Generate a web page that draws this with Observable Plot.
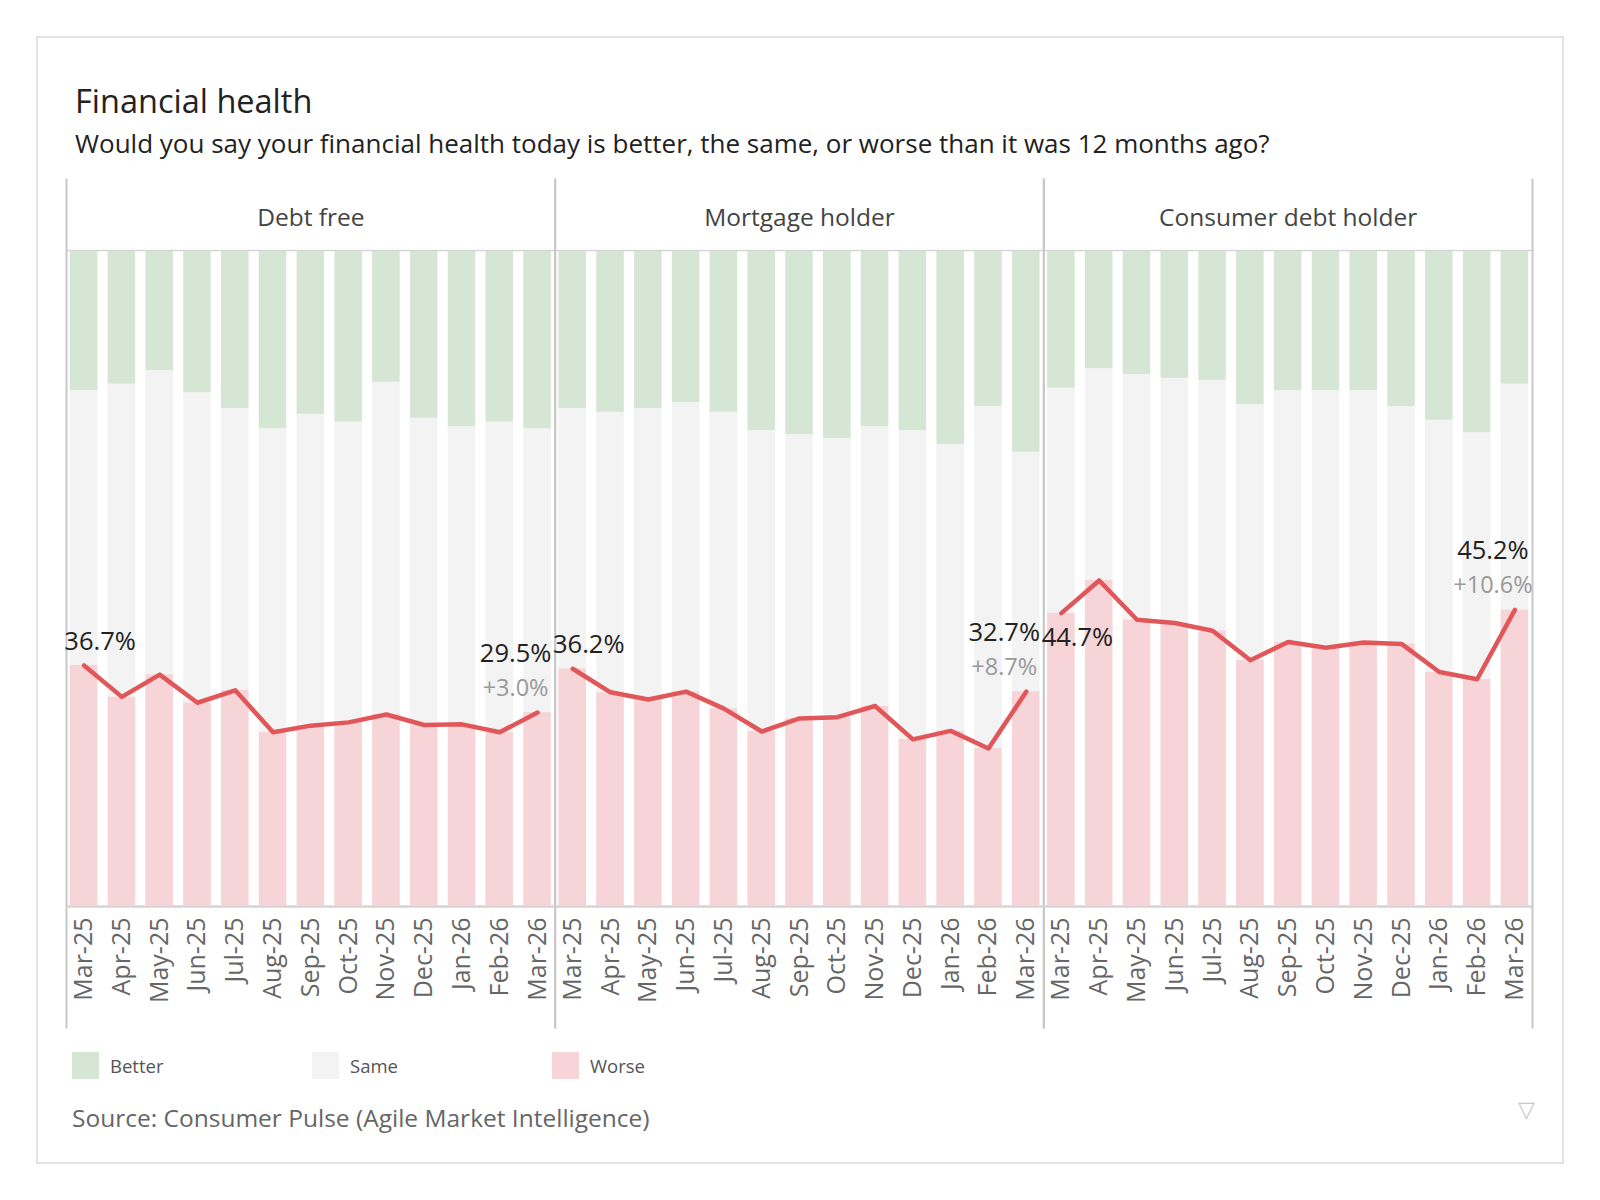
<!DOCTYPE html>
<html>
<head>
<meta charset="utf-8">
<script src="https://cdn.jsdelivr.net/npm/d3@7"></script>
<script src="https://cdn.jsdelivr.net/npm/@observablehq/plot@0.6"></script>
<style>
  body { margin: 0; background: #fff; font-family: "Open Sans", sans-serif; }
  #page { position: relative; width: 1600px; height: 1200px; overflow: hidden; background: #fff; }
  #border { position: absolute; left: 36px; top: 36px; width: 1524px; height: 1124px; border: 2px solid #e3e3e3; }
  #title { position: absolute; left: 75px; top: 85px; font-size: 32.5px; line-height: 32.5px; color: #222; white-space: nowrap; }
  #subtitle { position: absolute; left: 75px; top: 130px; font-size: 26px; line-height: 26px; color: #222; white-space: nowrap; }
  #chart { position: absolute; left: 0; top: 170px; }
  #legend { position: absolute; left: 72px; top: 1052px; display: flex; }
  .item { display: flex; align-items: center; width: 240px; height: 27px; font-size: 18.5px; color: #555; }
  .sw { width: 27px; height: 27px; margin-right: 11px; }
  #source { position: absolute; left: 72px; top: 1106px; font-size: 24.5px; line-height: 24.5px; color: #666; white-space: nowrap; }
  #tri { position: absolute; left: 1518px; top: 1097px; font-size: 22px; line-height: 22px; color: #c8c8c8; }
  #chart svg g[aria-label="x-axis tick label"] { fill: #666; }
</style>
</head>
<body>
<div id="page">
  <div id="border"></div>
  <div id="title">Financial health</div>
  <div id="subtitle">Would you say your financial health today is better, the same, or worse than it was 12 months ago?</div>
  <div id="chart"></div>
  <div id="legend"></div>
  <div id="source">Source: Consumer Pulse (Agile Market Intelligence)</div>
  <div id="tri">▽</div>
</div>
<script>
// ---- Data ----
const months = ["Mar-25","Apr-25","May-25","Jun-25","Jul-25","Aug-25","Sep-25","Oct-25","Nov-25","Dec-25","Jan-26","Feb-26","Mar-26"];
const segments = ["Debt free", "Mortgage holder", "Consumer debt holder"];
const responses = ["Better", "Same", "Worse"];
const responseColors = ["#d5e7d4", "#f3f3f3", "#f7d4d7"];

const betterDebtFree = [21.3, 20.3, 18.2, 21.6, 24.0, 27.1, 24.9, 26.1, 20.0, 25.5, 26.8, 26.1, 27.1];
const sameDebtFree   = [42.0, 47.8, 46.5, 47.4, 43.1, 46.4, 47.6, 45.9, 50.8, 46.9, 45.5, 47.4, 43.4];
const worseDebtFree  = [36.7, 31.9, 35.3, 31.0, 32.9, 26.5, 27.5, 28.0, 29.2, 27.6, 27.7, 26.5, 29.5];

const betterMortgage = [24.0, 24.6, 24.0, 23.1, 24.6, 27.4, 28.0, 28.6, 26.8, 27.4, 29.5, 23.7, 30.7];
const sameMortgage   = [39.8, 42.8, 44.5, 44.2, 45.3, 46.0, 43.4, 42.6, 42.7, 47.2, 43.8, 52.3, 36.6];
const worseMortgage  = [36.2, 32.6, 31.5, 32.7, 30.1, 26.6, 28.6, 28.8, 30.5, 25.4, 26.7, 24.0, 32.7];

const betterConsumer = [20.9, 17.9, 18.8, 19.4, 19.7, 23.4, 21.3, 21.3, 21.3, 23.7, 25.8, 27.7, 20.3];
const sameConsumer   = [34.4, 32.4, 37.5, 37.4, 38.3, 39.1, 38.4, 39.3, 38.5, 36.3, 38.5, 37.7, 34.5];
const worseConsumer  = [44.7, 49.7, 43.7, 43.2, 42.0, 37.5, 40.3, 39.4, 40.2, 40.0, 35.7, 34.6, 45.2];

// ---- Build tables ----
const seriesBySegment = {
  "Debt free": {Better: betterDebtFree, Same: sameDebtFree, Worse: worseDebtFree},
  "Mortgage holder": {Better: betterMortgage, Same: sameMortgage, Worse: worseMortgage},
  "Consumer debt holder": {Better: betterConsumer, Same: sameConsumer, Worse: worseConsumer}
};
const rows = [];
for (const s of segments) {
  months.forEach((m, i) => {
    for (const r of ["Worse", "Same", "Better"]) {
      rows.push({segment: s, month: m, response: r, value: seriesBySegment[s][r][i]});
    }
  });
}
const worseRows = rows.filter(d => d.response === "Worse");
const firstRows = worseRows.filter(d => d.month === months[0]);
const lastRows = segments.map(s => {
  const w = seriesBySegment[s].Worse;
  const n = w.length;
  return {segment: s, month: months[n - 1], value: w[n - 1], change: w[n - 1] - w[n - 2]};
});
const pct = d3.format(".1f");
const chg = d3.format("+.1f");

const plot = Plot.plot({
  width: 1600,
  height: 870,
  marginTop: 81,
  marginBottom: 135,
  marginLeft: 66,
  marginRight: 68,
  style: {fontFamily: "Open Sans, sans-serif", fontSize: "22px", background: "transparent"},
  fx: {domain: segments, padding: 0, round: false, axis: null, label: null},
  x: {domain: months, paddingInner: 0.27, paddingOuter: 0.1, round: false, label: null},
  y: {domain: [0, 100], axis: null, label: null},
  color: {domain: responses, range: responseColors},
  marks: [
    Plot.barY(rows, {fx: "segment", x: "month", y: "value", fill: "response", order: ["Worse", "Same", "Better"]}),
    Plot.frame({anchor: "top", stroke: "#d6d6d6", strokeWidth: 1.5, insetTop: -1}),
    Plot.frame({anchor: "left", stroke: "#c8c8c8", strokeWidth: 2, insetTop: -72, insetBottom: -122}),
    Plot.frame({anchor: "right", stroke: "#c8c8c8", strokeWidth: 2, insetTop: -72, insetBottom: -122}),
    Plot.ruleY([0], {stroke: "#d4d4d4", strokeWidth: 2.5, dy: 1}),
    Plot.text(segments, {fx: d => d, text: d => d, frameAnchor: "top", lineAnchor: "middle", dy: -33, fontSize: 24.5, fill: "#444"}),
    Plot.axisX({tickRotate: -90, tickSize: 0, tickPadding: 12, fontSize: 25, fill: "#666", label: null}),
    Plot.lineY(worseRows, {fx: "segment", x: "month", y: "value", stroke: "#e15759", strokeWidth: 4.5, strokeLinejoin: "round", strokeLinecap: "round"}),
    Plot.text(firstRows.filter(d => d.segment !== "Consumer debt holder"), {fx: "segment", x: "month", y: "value", text: d => pct(d.value) + "%", dx: 16, dy: -24, fontSize: 25.5, fill: "#222"}),
    Plot.text(firstRows.filter(d => d.segment === "Consumer debt holder"), {fx: "segment", x: "month", y: "value", text: d => pct(d.value) + "%", dx: 16, dy: 25, fontSize: 25.5, fill: "#222"}),
    Plot.text(lastRows, {fx: "segment", x: "month", y: "value", text: d => pct(d.value) + "%", dx: -22, dy: -59, fontSize: 25.5, fill: "#222"}),
    Plot.text(lastRows, {fx: "segment", x: "month", y: "value", text: d => chg(d.change) + "%", dx: -22, dy: -24.5, fontSize: 23.5, fill: "#9a9a9a"})
  ]
});
document.getElementById("chart").appendChild(plot);

// ---- Legend ----
const legend = document.getElementById("legend");
responses.forEach((r, i) => {
  const item = document.createElement("div");
  item.className = "item";
  const sw = document.createElement("div");
  sw.className = "sw";
  sw.style.background = responseColors[i];
  const label = document.createElement("span");
  label.textContent = r;
  item.appendChild(sw);
  item.appendChild(label);
  legend.appendChild(item);
});
</script>
</body>
</html>
